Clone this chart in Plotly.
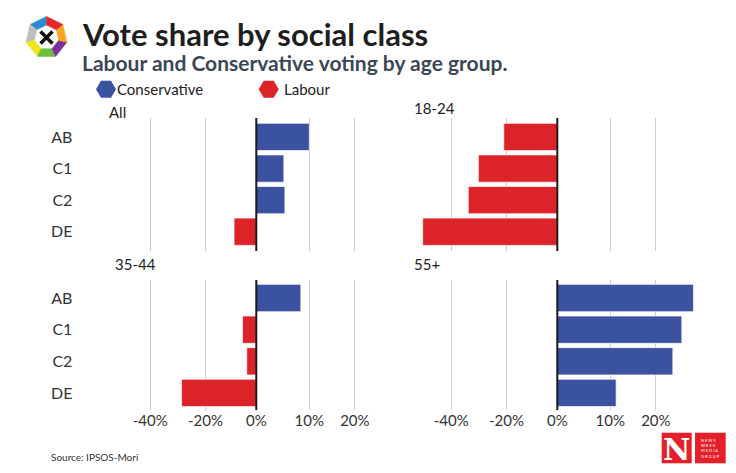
import math
import plotly.graph_objects as go

# ---------------- data ----------------
classes = ["AB", "C1", "C2", "DE"]
panel_titles = ["All", "18-24", "35-44", "55+"]
series_names = ["Conservative", "Labour"]

# Lead (percentage points, in the chart's own bar scale); None = other party leads
con_all = [10.0, 5.2, 5.4, None]
lab_all = [None, None, None, 4.2]
con_1824 = [None, None, None, None]
lab_1824 = [10.1, 14.9, 16.8, 25.4]
con_3544 = [8.4, None, None, None]
lab_3544 = [None, 2.6, 1.8, 14.1]
con_55 = [25.7, 23.5, 21.8, 11.1]
lab_55 = [None, None, None, None]

tick_vals = [-20, -9.6, 0, 10, 18.6]
tick_text = ["-40%", "-20%", "0%", "10%", "20%"]

BLUE = "#3a52a0"
RED = "#dd2327"
W, H = 736, 473
FONT = "Lato"


def fx(x):
    return x / W


def fy(y):
    return 1 - y / H


panel_con = [con_all, con_1824, con_3544, con_55]
panel_lab = [lab_all, lab_1824, lab_3544, lab_55]

fig = go.Figure()
for i in range(4):
    ax = "" if i == 0 else str(i + 1)
    fig.add_trace(go.Bar(
        y=classes, x=panel_con[i], orientation="h", name=series_names[0],
        marker=dict(color=BLUE, line=dict(color="rgba(255,255,255,0.7)", width=1)),
        xaxis="x" + ax, yaxis="y" + ax, showlegend=False,
    ))
    fig.add_trace(go.Bar(
        y=classes, x=[None if v is None else -v for v in panel_lab[i]],
        orientation="h", name=series_names[1],
        marker=dict(color=RED, line=dict(color="rgba(255,255,255,0.7)", width=1)),
        xaxis="x" + ax, yaxis="y" + ax, showlegend=False,
    ))

PXU = 5.3  # pixels per unit
left_zero, right_zero = 256.3, 557.3
left_xr = [-33, 24]
right_xr = [-30, 29]
left_dom = [fx(left_zero + left_xr[0] * PXU), fx(left_zero + left_xr[1] * PXU)]
right_dom = [fx(right_zero + right_xr[0] * PXU), fx(right_zero + right_xr[1] * PXU)]
top_dom = [fy(251), fy(118)]
bot_dom = [fy(410), fy(280)]
top_yr = [3.61, -0.6]
bot_yr = [3.54, -0.57]

tickfont = dict(family=FONT, size=15, color="#333333")
catfont = dict(family=FONT, size=16, color="#333333")


def xaxis(dom, rng, anchor, show):
    return dict(domain=dom, anchor=anchor, range=rng, tickvals=tick_vals,
                ticktext=tick_text, showticklabels=show, showgrid=True,
                gridcolor="#c8ccd0", gridwidth=1, zeroline=False,
                showline=False, ticks="", tickfont=tickfont, fixedrange=True)


def yaxis(dom, anchor, rng, show):
    return dict(domain=dom, anchor=anchor, range=rng, type="category",
                categoryorder="array", categoryarray=classes,
                showticklabels=show, showgrid=False, zeroline=False,
                showline=False, ticks="", tickfont=catfont,
                ticklabelstandoff=8, fixedrange=True)


fig.update_layout(
    width=W, height=H,
    margin=dict(l=0, r=0, t=0, b=0),
    paper_bgcolor="white", plot_bgcolor="white",
    barmode="relative", bargap=0.136,
    font=dict(family=FONT, color="#333333"),
    xaxis=xaxis(left_dom, left_xr, "y", False),
    yaxis=yaxis(top_dom, "x", top_yr, True),
    xaxis2=xaxis(right_dom, right_xr, "y2", False),
    yaxis2=yaxis(top_dom, "x2", top_yr, False),
    xaxis3=xaxis(left_dom, left_xr, "y3", True),
    yaxis3=yaxis(bot_dom, "x3", bot_yr, True),
    xaxis4=xaxis(right_dom, right_xr, "y4", True),
    yaxis4=yaxis(bot_dom, "x4", bot_yr, False),
)

shapes = []
# zero lines above bars
for i in range(4):
    ax = "" if i == 0 else str(i + 1)
    shapes.append(dict(type="line", xref="x" + ax, yref="y" + ax + " domain",
                       x0=0, x1=0, y0=0, y1=1,
                       line=dict(color="#1a1a1a", width=2), layer="above"))

# ballot logo (heptagon ring)
cx, cy, Ro, Ri = 46.5, 37.5, 21, 12.5
seg_colors = ["#2b8ad8", "#bdbdbd", "#f0e51b", "#6cbf3c", "#7c2f98", "#f6a623", "#e2262b"]
n = 7
for k in range(n):
    a0 = math.radians(90 + k * 360 / n)
    a1 = math.radians(90 + (k + 1) * 360 / n)
    pts = [(cx + Ro * math.cos(a0), cy - Ro * math.sin(a0)),
           (cx + Ro * math.cos(a1), cy - Ro * math.sin(a1)),
           (cx + Ri * math.cos(a1), cy - Ri * math.sin(a1)),
           (cx + Ri * math.cos(a0), cy - Ri * math.sin(a0))]
    path = "M " + " L ".join(f"{fx(px):.5f},{fy(py):.5f}" for px, py in pts) + " Z"
    shapes.append(dict(type="path", xref="paper", yref="paper", path=path,
                       fillcolor=seg_colors[k], line=dict(width=0.5, color=seg_colors[k]),
                       layer="above"))
d = 6
shapes.append(dict(type="line", xref="paper", yref="paper",
                   x0=fx(cx - d), y0=fy(cy - d), x1=fx(cx + d), y1=fy(cy + d),
                   line=dict(color="#111111", width=3.5)))
shapes.append(dict(type="line", xref="paper", yref="paper",
                   x0=fx(cx - d), y0=fy(cy + d), x1=fx(cx + d), y1=fy(cy - d),
                   line=dict(color="#111111", width=3.5)))


# legend hexagons
def hexagon(xc, yc, rx, ry, color):
    pts = [(xc + rx, yc), (xc + rx / 2, yc - ry), (xc - rx / 2, yc - ry),
           (xc - rx, yc), (xc - rx / 2, yc + ry), (xc + rx / 2, yc + ry)]
    path = "M " + " L ".join(f"{fx(px):.5f},{fy(py):.5f}" for px, py in pts) + " Z"
    return dict(type="path", xref="paper", yref="paper", path=path,
                fillcolor=color, line=dict(width=0), layer="above")


shapes.append(hexagon(106, 89.3, 10, 8.5, BLUE))
shapes.append(hexagon(268.7, 89.3, 10, 8.5, RED))

# Newsweek logo boxes
shapes.append(dict(type="rect", xref="paper", yref="paper",
                   x0=fx(661.7), x1=fx(691.7), y0=fy(463.3), y1=fy(432.7),
                   fillcolor="#e3202a", line=dict(width=0)))
shapes.append(dict(type="rect", xref="paper", yref="paper",
                   x0=fx(695), x1=fx(725.7), y0=fy(463.3), y1=fy(432.7),
                   fillcolor="#e3202a", line=dict(width=0)))
fig.update_layout(shapes=shapes)

ann = []


def text(x, y, s, size, color="#222222", xanchor="left", family=FONT, bold=False):
    ann.append(dict(x=fx(x), y=fy(y), xref="paper", yref="paper",
                    text=f"<b>{s}</b>" if bold else s, showarrow=False,
                    xanchor=xanchor, yanchor="middle",
                    font=dict(family=family, size=size, color=color)))


text(80, 34, "Vote share by social class", 31, "#1e1e1e", bold=True)
text(80, 63, "Labour and Conservative voting by age group.", 21, "#3b4754", bold=True)
text(115, 89, series_names[0], 15)
text(282, 89, series_names[1], 15)
text(107, 111.5, panel_titles[0], 15)
text(412, 107.5, panel_titles[1], 15)
text(113, 264, panel_titles[2], 15)
text(412, 264, panel_titles[3], 15)
text(49, 457, "Source: IPSOS-Mori", 10, "#333333")
text(676.7, 449, "N", 30, "white", xanchor="center", family="DejaVu Serif", bold=True)
ann.append(dict(x=fx(710.3), y=fy(448), xref="paper", yref="paper",
                text="N E W S<br>W E E K<br>M E D I A<br>G R O U P", showarrow=False,
                xanchor="center", yanchor="middle", align="left",
                font=dict(family=FONT, size=4, color="white")))
fig.update_layout(annotations=ann)

fig.write_html("out.html", config={"displayModeBar": False},
               post_script="document.body.style.margin='0';")
